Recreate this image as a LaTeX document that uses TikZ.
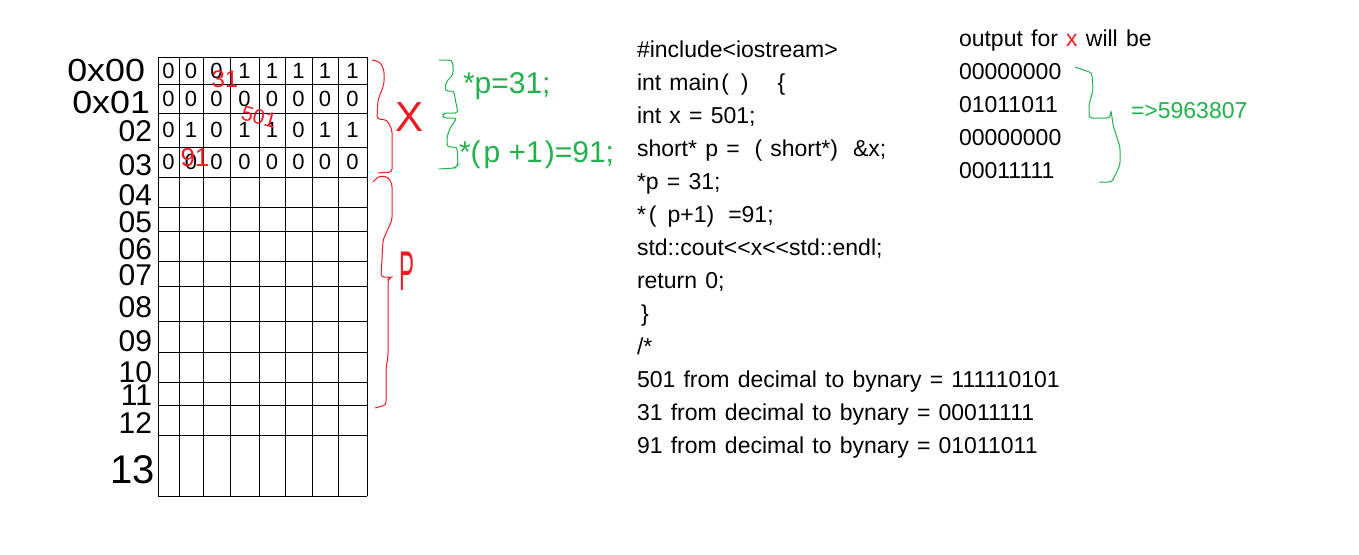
\documentclass[tikz,border=0pt]{standalone}
\usepackage{fontspec}
\setmainfont{Liberation Sans}
\usepackage{tikz}
\definecolor{paintred}{RGB}{237,28,36}
\definecolor{paintgreen}{RGB}{34,177,76}

\begin{document}
\begin{tikzpicture}[
        x=1pt, y=-1pt,
        every node/.style={inner sep=0pt, outer sep=0pt},
        code_line/.style={anchor=base west, font={\fontsize{23}{28}\selectfont\spaceskip=8.2pt\relax}},
        addr/.style={anchor=east, font=\fontsize{30}{36}\selectfont},
        bit/.style={font=\fontsize{22}{26}\selectfont},
        red_mark/.style={text=paintred},
        green_note/.style={anchor=base west, text=paintgreen, font=\fontsize{30}{36}\selectfont},
        grid_line/.style={draw=black, line width=1pt},
        red_brace/.style={draw=paintred, line width=1pt, rounded corners=3pt},
        green_brace/.style={draw=paintgreen, line width=1pt, rounded corners=3pt}
    ]
    \fill[white] (0,0) rectangle (1359,554);
    \useasboundingbox (0,0) rectangle (1359,554);

    % memory grid
    \foreach \y in {57,84,113,147,177,207,231,261,286,321,352,382,405,435,496}
        \draw[grid_line] (158,\y) -- (367,\y);
    \foreach \x in {158,179,203,230,259,285,312,338,367}
        \draw[grid_line] (\x,57) -- (\x,496);

    % addresses
    \node[addr, font=\fontsize{32}{36}\selectfont, xscale=1.12] (a0) at (145,70) {0x00};
    \node[addr, font=\fontsize{32}{36}\selectfont, xscale=1.12] (a1) at (150,102) {0x01};
    \foreach \lbl/\y [count=\i from 2] in {02/131, 03/165, 04/195, 05/222, 06/249, 07/275, 08/307, 09/341, 10/372, 11/395, 12/423}
        \node[addr] (a\i) at (152,\y) {\lbl};
    \node[addr, font=\fontsize{40}{48}\selectfont] (a13) at (155,470) {13};

    % bits of x
    \foreach \y/\bits [count=\r from 0] in {70.5/{0,0,0,1,1,1,1,1}, 98.5/{0,0,0,0,0,0,0,0}, 130/{0,1,0,1,1,0,1,1}, 162/{0,0,0,0,0,0,0,0}}
        \foreach \b [count=\c from 0] in \bits {
            \pgfmathsetmacro\cx{{168.5,191,216.5,244.5,272,298.5,325,352.5}[\c]}
            \node[bit] (b\r\c) at (\cx,\y) {\b};
        }

    \node[red_mark, font=\fontsize{24}{28}\selectfont] (m31) at (225,79) {31};
    \node[red_mark, font=\fontsize{21}{24}\selectfont, rotate=-15] (m501) at (259,117) {501};
    \node[red_mark, font=\fontsize{26}{30}\selectfont] (m91) at (195,158) {91};

    % braces x and p
    \draw[red_brace] (372,60) -- (380,62) -- (384,70) -- (384,84) -- (378,100) -- (377,119) -- (387,120) -- (392,130) -- (392,172) -- (378,173);
    \draw[red_brace] (373,182) -- (379,176) -- (388,177) -- (392,184) -- (392,220) -- (383,240) -- (381,277) -- (392,277) -- (388,279) -- (388,357) -- (386,368) -- (386,405) -- (375,408);
    \node[red_mark, font=\fontsize{42}{48}\selectfont] (xlbl) at (410,117) {X};
    \node[red_mark, font=\fontsize{56}{60}\selectfont, xscale=0.4] (plbl) at (407,271) {P};

    \draw[green_brace] (439,60) -- (452,60) -- (453,65) -- (453,75) -- (446,82) -- (445,91) -- (454,91) -- (455,98) -- (458,113) -- (443,113) -- (443,118) -- (457,118) -- (450,128) -- (447,137) -- (447,147) -- (457,147) -- (458,165) -- (455,168) -- (439,169);
    \node[green_note] (n1) at (463,93) {*p=31;};
    \node[green_note] (n2) at (459,162) {*(\hspace{3pt}p +1\hspace{2pt})=91;};

    % source code
    \foreach \txt [count=\i from 0] in {
        {\#include<iostream>},
        {int main\hspace{2pt}(\hspace{12pt})\hspace{29pt}\{},
        {int x = 501;},
        {short* p =\hspace{15pt}(\hspace{8pt}short*)\hspace{15pt}\&x;},
        {*p = 31;},
        {*\hspace{3pt}(\hspace{11pt}p+1)\hspace{14pt}=91;},
        {std::cout<{}<x<{}<std::endl;},
        {return 0;},
        {\hspace{4pt}\}},
        {/*},
        {501 from decimal to bynary = 111110101},
        {31 from decimal to bynary = 00011111},
        {91 from decimal to bynary = 01011011}}
        \node[code_line] (c\i) at (637,57+33*\i) {\txt};

    % output
    \node[code_line] (out) at (959,46) {output for {\color{paintred}x} will be};
    \foreach \word [count=\i from 1] in {00000000,01011011,00000000,00011111}
        \node[code_line] (o\i) at (959,46+33*\i) {\word};
    \draw[green_brace] (1075,67) -- (1092,73) -- (1093,90) -- (1089,105) -- (1089,118) -- (1110,118) -- (1111,110) -- (1113,125) -- (1120,147) -- (1120,165) -- (1112,182) -- (1099,182);
    \node[code_line, text=paintgreen] (res) at (1131,118) {=>5963807};
\end{tikzpicture}
\end{document}
